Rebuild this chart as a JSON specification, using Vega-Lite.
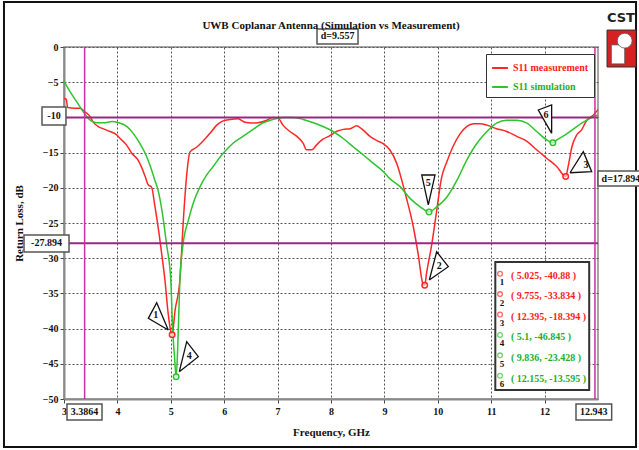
{
  "$schema": "https://vega.github.io/schema/vega-lite/v6.json",
  "autosize": {"type": "none"},
  "width": 534,
  "height": 352,
  "padding": {"left": 64, "top": 47, "right": 41, "bottom": 51},
  "background": "white",
  "title": {"text": "UWB Coplanar Antenna (Simulation vs Measurement)", "frame": "group", "anchor": "middle", "baseline": "bottom", "offset": -41, "font": "Liberation Serif", "fontSize": 11, "fontWeight": "bold", "color": "#111"},
  "config": {
    "font": "Liberation Serif",
    "view": {"stroke": "#8a8a8a", "strokeWidth": 1.5},
    "axis": {"labelFont": "Liberation Serif", "labelFontWeight": "bold", "labelFontSize": 10, "labelColor": "#111", "titleFont": "Liberation Serif", "titleFontWeight": "bold", "titleFontSize": 11, "titleColor": "#111", "domainColor": "#8a8a8a", "domainWidth": 2, "tickColor": "#444", "tickSize": 4, "gridColor": "#555", "gridDash": [2, 2], "gridWidth": 1, "labelOverlap": false, "labelFlush": false}
  },
  "layer": [
    {
      "data": {"values": [
        {"f": 3.0, "db": -7.3, "s": "S11 measurement"}, {"f": 3.04, "db": -7.4, "s": "S11 measurement"}, {"f": 3.07, "db": -8.6, "s": "S11 measurement"}, {"f": 3.2, "db": -8.7, "s": "S11 measurement"}, {"f": 3.3, "db": -8.7, "s": "S11 measurement"}, {"f": 3.39, "db": -9.2, "s": "S11 measurement"}, {"f": 3.49, "db": -9.9, "s": "S11 measurement"}, {"f": 3.54, "db": -10.6, "s": "S11 measurement"}, {"f": 3.64, "db": -11.3, "s": "S11 measurement"}, {"f": 3.73, "db": -11.6, "s": "S11 measurement"}, {"f": 3.86, "db": -12.0, "s": "S11 measurement"}, {"f": 3.99, "db": -12.5, "s": "S11 measurement"}, {"f": 4.05, "db": -13.0, "s": "S11 measurement"}, {"f": 4.17, "db": -13.9, "s": "S11 measurement"}, {"f": 4.27, "db": -15.1, "s": "S11 measurement"}, {"f": 4.39, "db": -16.1, "s": "S11 measurement"}, {"f": 4.46, "db": -17.2, "s": "S11 measurement"}, {"f": 4.52, "db": -18.4, "s": "S11 measurement"}, {"f": 4.58, "db": -19.6, "s": "S11 measurement"}, {"f": 4.64, "db": -19.9, "s": "S11 measurement"}, {"f": 4.7, "db": -22.5, "s": "S11 measurement"}, {"f": 4.78, "db": -26.5, "s": "S11 measurement"}, {"f": 4.84, "db": -30.0, "s": "S11 measurement"}, {"f": 4.89, "db": -33.1, "s": "S11 measurement"}, {"f": 4.95, "db": -37.8, "s": "S11 measurement"}, {"f": 5.0, "db": -40.4, "s": "S11 measurement"}, {"f": 5.025, "db": -40.88, "s": "S11 measurement"}, {"f": 5.08, "db": -37.4, "s": "S11 measurement"}, {"f": 5.17, "db": -33.1, "s": "S11 measurement"}, {"f": 5.24, "db": -24.0, "s": "S11 measurement"}, {"f": 5.3, "db": -18.0, "s": "S11 measurement"}, {"f": 5.36, "db": -14.9, "s": "S11 measurement"}, {"f": 5.49, "db": -14.2, "s": "S11 measurement"}, {"f": 5.6, "db": -13.4, "s": "S11 measurement"}, {"f": 5.73, "db": -12.3, "s": "S11 measurement"}, {"f": 5.86, "db": -11.1, "s": "S11 measurement"}, {"f": 5.98, "db": -10.5, "s": "S11 measurement"}, {"f": 6.11, "db": -10.3, "s": "S11 measurement"}, {"f": 6.26, "db": -10.2, "s": "S11 measurement"}, {"f": 6.39, "db": -10.7, "s": "S11 measurement"}, {"f": 6.52, "db": -10.8, "s": "S11 measurement"}, {"f": 6.63, "db": -10.75, "s": "S11 measurement"}, {"f": 6.8, "db": -10.4, "s": "S11 measurement"}, {"f": 6.91, "db": -10.0, "s": "S11 measurement"}, {"f": 7.01, "db": -10.1, "s": "S11 measurement"}, {"f": 7.1, "db": -11.1, "s": "S11 measurement"}, {"f": 7.23, "db": -12.0, "s": "S11 measurement"}, {"f": 7.36, "db": -12.7, "s": "S11 measurement"}, {"f": 7.48, "db": -13.7, "s": "S11 measurement"}, {"f": 7.54, "db": -14.6, "s": "S11 measurement"}, {"f": 7.64, "db": -14.6, "s": "S11 measurement"}, {"f": 7.73, "db": -13.9, "s": "S11 measurement"}, {"f": 7.85, "db": -13.1, "s": "S11 measurement"}, {"f": 7.98, "db": -12.6, "s": "S11 measurement"}, {"f": 8.1, "db": -12.0, "s": "S11 measurement"}, {"f": 8.23, "db": -11.7, "s": "S11 measurement"}, {"f": 8.36, "db": -11.6, "s": "S11 measurement"}, {"f": 8.48, "db": -11.2, "s": "S11 measurement"}, {"f": 8.57, "db": -11.6, "s": "S11 measurement"}, {"f": 8.73, "db": -12.7, "s": "S11 measurement"}, {"f": 8.86, "db": -13.3, "s": "S11 measurement"}, {"f": 8.97, "db": -13.7, "s": "S11 measurement"}, {"f": 9.1, "db": -14.6, "s": "S11 measurement"}, {"f": 9.23, "db": -16.5, "s": "S11 measurement"}, {"f": 9.39, "db": -20.8, "s": "S11 measurement"}, {"f": 9.54, "db": -25.5, "s": "S11 measurement"}, {"f": 9.63, "db": -29.3, "s": "S11 measurement"}, {"f": 9.72, "db": -33.6, "s": "S11 measurement"}, {"f": 9.755, "db": -33.834, "s": "S11 measurement"}, {"f": 9.79, "db": -32.1, "s": "S11 measurement"}, {"f": 9.89, "db": -27.9, "s": "S11 measurement"}, {"f": 9.98, "db": -23.2, "s": "S11 measurement"}, {"f": 10.07, "db": -18.6, "s": "S11 measurement"}, {"f": 10.17, "db": -16.3, "s": "S11 measurement"}, {"f": 10.28, "db": -14.2, "s": "S11 measurement"}, {"f": 10.42, "db": -12.3, "s": "S11 measurement"}, {"f": 10.54, "db": -11.3, "s": "S11 measurement"}, {"f": 10.67, "db": -10.9, "s": "S11 measurement"}, {"f": 10.79, "db": -10.9, "s": "S11 measurement"}, {"f": 10.92, "db": -11.1, "s": "S11 measurement"}, {"f": 11.1, "db": -11.6, "s": "S11 measurement"}, {"f": 11.29, "db": -12.0, "s": "S11 measurement"}, {"f": 11.48, "db": -12.7, "s": "S11 measurement"}, {"f": 11.67, "db": -13.4, "s": "S11 measurement"}, {"f": 11.85, "db": -14.6, "s": "S11 measurement"}, {"f": 12.04, "db": -15.8, "s": "S11 measurement"}, {"f": 12.23, "db": -17.0, "s": "S11 measurement"}, {"f": 12.395, "db": -18.394, "s": "S11 measurement"}, {"f": 12.44, "db": -17.0, "s": "S11 measurement"}, {"f": 12.51, "db": -14.2, "s": "S11 measurement"}, {"f": 12.6, "db": -12.5, "s": "S11 measurement"}, {"f": 12.69, "db": -11.8, "s": "S11 measurement"}, {"f": 12.79, "db": -10.4, "s": "S11 measurement"}, {"f": 12.91, "db": -9.7, "s": "S11 measurement"}, {"f": 13.0, "db": -8.9, "s": "S11 measurement"},
        {"f": 3.0, "db": -4.9, "s": "S11 simulation"}, {"f": 3.11, "db": -6.3, "s": "S11 simulation"}, {"f": 3.24, "db": -7.8, "s": "S11 simulation"}, {"f": 3.36, "db": -9.2, "s": "S11 simulation"}, {"f": 3.49, "db": -10.4, "s": "S11 simulation"}, {"f": 3.61, "db": -10.75, "s": "S11 simulation"}, {"f": 3.74, "db": -10.75, "s": "S11 simulation"}, {"f": 3.9, "db": -10.6, "s": "S11 simulation"}, {"f": 4.02, "db": -10.75, "s": "S11 simulation"}, {"f": 4.18, "db": -11.3, "s": "S11 simulation"}, {"f": 4.3, "db": -12.3, "s": "S11 simulation"}, {"f": 4.42, "db": -13.7, "s": "S11 simulation"}, {"f": 4.52, "db": -15.1, "s": "S11 simulation"}, {"f": 4.61, "db": -16.8, "s": "S11 simulation"}, {"f": 4.7, "db": -18.9, "s": "S11 simulation"}, {"f": 4.76, "db": -20.3, "s": "S11 simulation"}, {"f": 4.84, "db": -23.5, "s": "S11 simulation"}, {"f": 4.92, "db": -28.0, "s": "S11 simulation"}, {"f": 5.0, "db": -33.1, "s": "S11 simulation"}, {"f": 5.035, "db": -40.2, "s": "S11 simulation"}, {"f": 5.07, "db": -44.0, "s": "S11 simulation"}, {"f": 5.1, "db": -46.845, "s": "S11 simulation"}, {"f": 5.13, "db": -42.6, "s": "S11 simulation"}, {"f": 5.17, "db": -33.1, "s": "S11 simulation"}, {"f": 5.23, "db": -28.0, "s": "S11 simulation"}, {"f": 5.33, "db": -24.6, "s": "S11 simulation"}, {"f": 5.42, "db": -22.2, "s": "S11 simulation"}, {"f": 5.55, "db": -19.8, "s": "S11 simulation"}, {"f": 5.67, "db": -18.2, "s": "S11 simulation"}, {"f": 5.79, "db": -17.0, "s": "S11 simulation"}, {"f": 5.98, "db": -15.1, "s": "S11 simulation"}, {"f": 6.16, "db": -13.7, "s": "S11 simulation"}, {"f": 6.35, "db": -12.7, "s": "S11 simulation"}, {"f": 6.54, "db": -11.7, "s": "S11 simulation"}, {"f": 6.72, "db": -10.8, "s": "S11 simulation"}, {"f": 6.91, "db": -10.3, "s": "S11 simulation"}, {"f": 7.1, "db": -10.0, "s": "S11 simulation"}, {"f": 7.29, "db": -10.0, "s": "S11 simulation"}, {"f": 7.48, "db": -10.3, "s": "S11 simulation"}, {"f": 7.67, "db": -10.75, "s": "S11 simulation"}, {"f": 7.85, "db": -11.3, "s": "S11 simulation"}, {"f": 8.04, "db": -12.0, "s": "S11 simulation"}, {"f": 8.23, "db": -13.0, "s": "S11 simulation"}, {"f": 8.42, "db": -14.2, "s": "S11 simulation"}, {"f": 8.6, "db": -15.3, "s": "S11 simulation"}, {"f": 8.79, "db": -16.5, "s": "S11 simulation"}, {"f": 8.98, "db": -17.7, "s": "S11 simulation"}, {"f": 9.1, "db": -18.7, "s": "S11 simulation"}, {"f": 9.29, "db": -19.8, "s": "S11 simulation"}, {"f": 9.48, "db": -21.5, "s": "S11 simulation"}, {"f": 9.67, "db": -22.7, "s": "S11 simulation"}, {"f": 9.836, "db": -23.428, "s": "S11 simulation"}, {"f": 9.98, "db": -22.7, "s": "S11 simulation"}, {"f": 10.17, "db": -21.3, "s": "S11 simulation"}, {"f": 10.36, "db": -18.9, "s": "S11 simulation"}, {"f": 10.54, "db": -16.1, "s": "S11 simulation"}, {"f": 10.73, "db": -13.7, "s": "S11 simulation"}, {"f": 10.92, "db": -12.0, "s": "S11 simulation"}, {"f": 11.1, "db": -10.8, "s": "S11 simulation"}, {"f": 11.29, "db": -10.4, "s": "S11 simulation"}, {"f": 11.48, "db": -10.4, "s": "S11 simulation"}, {"f": 11.67, "db": -10.8, "s": "S11 simulation"}, {"f": 11.85, "db": -12.0, "s": "S11 simulation"}, {"f": 12.04, "db": -13.2, "s": "S11 simulation"}, {"f": 12.155, "db": -13.595, "s": "S11 simulation"}, {"f": 12.23, "db": -13.2, "s": "S11 simulation"}, {"f": 12.42, "db": -12.3, "s": "S11 simulation"}, {"f": 12.6, "db": -11.3, "s": "S11 simulation"}, {"f": 12.79, "db": -10.4, "s": "S11 simulation"}, {"f": 12.94, "db": -9.8, "s": "S11 simulation"}, {"f": 13.0, "db": -9.7, "s": "S11 simulation"}
      ]},
      "mark": {"type": "line", "strokeWidth": 1.5, "interpolate": "monotone"},
      "encoding": {
        "x": {"field": "f", "type": "quantitative", "title": "Frequency, GHz", "scale": {"domain": [3, 13], "nice": false, "zero": false}, "axis": {"values": [3, 4, 5, 6, 7, 8, 9, 10, 11, 12], "tickCount": 10, "labelPadding": 3, "titlePadding": 10, "grid": true}},
        "y": {"field": "db", "type": "quantitative", "title": "Return Loss, dB", "scale": {"domain": [-50, 0], "nice": false, "zero": false}, "axis": {"values": [0, -5, -10, -15, -20, -25, -30, -35, -40, -45, -50], "tickCount": 11, "labelExpr": "datum.value == -10 ? '' : datum.label", "labelPadding": 2, "titlePadding": 18, "grid": true}},
        "color": {"field": "s", "type": "nominal", "scale": {"domain": ["S11 measurement", "S11 simulation"], "range": ["#ff2626", "#2ec42e"]},
          "legend": {"title": null, "orient": "none", "legendX": 422, "legendY": 7, "strokeColor": "#333", "fillColor": "white", "padding": 5, "symbolType": "stroke", "symbolSize": 250, "symbolStrokeWidth": 2, "labelFont": "Liberation Serif", "labelFontWeight": "bold", "labelFontSize": 10, "rowPadding": 5, "labelOffset": 4,
            "encode": {"labels": {"update": {"fill": {"signal": "datum.value == 'S11 measurement' ? '#ff1a1a' : '#1fb01f'"}}}}}}
      }
    },
    {
      "data": {"values": [
        {"f": 1.876, "f2": 13.712, "db": 6.39, "db2": -56.82}
      ]},
      "mark": {"type": "rect", "fill": null, "stroke": "#111", "strokeWidth": 2},
      "encoding": {"x": {"field": "f", "type": "quantitative"}, "x2": {"field": "f2"}, "y": {"field": "db", "type": "quantitative"}, "y2": {"field": "db2"}}
    },
    {
      "data": {"values": [{"db": -10}, {"db": -27.894}]},
      "mark": {"type": "rule", "stroke": "#9b2580", "strokeWidth": 2},
      "encoding": {"y": {"field": "db", "type": "quantitative"}}
    },
    {
      "data": {"values": [{"f": 3.3864}, {"f": 12.943}]},
      "mark": {"type": "rule", "stroke": "#c8329a", "strokeWidth": 1.5},
      "encoding": {"x": {"field": "f", "type": "quantitative"}}
    },
    {
      "data": {"values": [
        {"label": "-10", "f": 2.588, "f2": 3.037, "db": -8.52, "db2": -11.08},
        {"label": "-27.894", "f": 2.251, "f2": 3.094, "db": -26.7, "db2": -29.12},
        {"label": "3.3864", "f": 3.056, "f2": 3.712, "db": -50.71, "db2": -52.98},
        {"label": "12.943", "f": 12.588, "f2": 13.256, "db": -50.71, "db2": -52.98},
        {"label": "d=9.557", "f": 7.738, "f2": 8.506, "db": 2.56, "db2": 0.43},
        {"label": "d=17.894", "f": 13.0, "f2": 13.88, "db": -17.61, "db2": -19.74}
      ]},
      "mark": {"type": "rect", "fill": "white", "stroke": "#555", "strokeWidth": 1.5},
      "encoding": {"x": {"field": "f", "type": "quantitative"}, "x2": {"field": "f2"}, "y": {"field": "db", "type": "quantitative"}, "y2": {"field": "db2"}}
    },
    {
      "data": {"values": [
        {"label": "-10", "f": 2.813, "db": -9.85},
        {"label": "-27.894", "f": 2.672, "db": -27.9},
        {"label": "3.3864", "f": 3.384, "db": -51.85},
        {"label": "12.943", "f": 12.922, "db": -51.85},
        {"label": "d=9.557", "f": 8.122, "db": 1.5},
        {"label": "d=17.894", "f": 13.43, "db": -18.68}
      ]},
      "mark": {"type": "text", "font": "Liberation Serif", "fontWeight": "bold", "fontSize": 10, "color": "#111", "baseline": "middle", "align": "center"},
      "encoding": {"x": {"field": "f", "type": "quantitative"}, "y": {"field": "db", "type": "quantitative"}, "text": {"field": "label"}}
    },
    {
      "data": {"values": [
        {"f": 5.025, "db": -40.88, "s": "S11 measurement"}, {"f": 9.755, "db": -33.834, "s": "S11 measurement"}, {"f": 12.395, "db": -18.394, "s": "S11 measurement"},
        {"f": 5.1, "db": -46.845, "s": "S11 simulation"}, {"f": 9.836, "db": -23.428, "s": "S11 simulation"}, {"f": 12.155, "db": -13.595, "s": "S11 simulation"}
      ]},
      "mark": {"type": "point", "filled": false, "size": 30, "strokeWidth": 1.5, "fill": "white", "fillOpacity": 0.6},
      "encoding": {"x": {"field": "f", "type": "quantitative"}, "y": {"field": "db", "type": "quantitative"},
        "stroke": {"field": "s", "type": "nominal", "legend": null, "scale": {"domain": ["S11 measurement", "S11 simulation"], "range": ["#ff2626", "#2ec42e"]}}}
    },
    {
      "data": {"values": [
        {"id": 1, "k": 0, "f": 4.953, "db": -40.2}, {"id": 1, "k": 1, "f": 4.736, "db": -36.32}, {"id": 1, "k": 2, "f": 4.579, "db": -38.54}, {"id": 1, "k": 3, "f": 4.953, "db": -40.2},
        {"id": 4, "k": 0, "f": 5.159, "db": -46.12}, {"id": 4, "k": 1, "f": 5.298, "db": -41.86}, {"id": 4, "k": 2, "f": 5.515, "db": -43.99}, {"id": 4, "k": 3, "f": 5.159, "db": -46.12},
        {"id": 2, "k": 0, "f": 9.841, "db": -33.1}, {"id": 2, "k": 1, "f": 9.979, "db": -29.08}, {"id": 2, "k": 2, "f": 10.197, "db": -31.21}, {"id": 2, "k": 3, "f": 9.841, "db": -33.1},
        {"id": 5, "k": 0, "f": 9.822, "db": -22.44}, {"id": 5, "k": 1, "f": 9.699, "db": -18.18}, {"id": 5, "k": 2, "f": 9.948, "db": -18.18}, {"id": 5, "k": 3, "f": 9.822, "db": -22.44},
        {"id": 3, "k": 0, "f": 12.476, "db": -17.86}, {"id": 3, "k": 1, "f": 12.725, "db": -14.87}, {"id": 3, "k": 2, "f": 12.882, "db": -17.71}, {"id": 3, "k": 3, "f": 12.476, "db": -17.86},
        {"id": 6, "k": 0, "f": 12.132, "db": -12.26}, {"id": 6, "k": 1, "f": 11.882, "db": -8.95}, {"id": 6, "k": 2, "f": 12.132, "db": -8.24}, {"id": 6, "k": 3, "f": 12.132, "db": -12.26}
      ]},
      "mark": {"type": "line", "stroke": "#111", "strokeWidth": 1.3, "fill": "white", "strokeJoin": "miter"},
      "encoding": {"x": {"field": "f", "type": "quantitative"}, "y": {"field": "db", "type": "quantitative"}, "detail": {"field": "id", "type": "nominal"}, "order": {"field": "k", "type": "quantitative"}}
    },
    {
      "data": {"values": [
        {"n": "1", "f": 4.717, "db": -38.07}, {"n": "4", "f": 5.346, "db": -43.89}, {"n": "2", "f": 10.028, "db": -31.11},
        {"n": "5", "f": 9.822, "db": -19.36}, {"n": "3", "f": 12.775, "db": -16.76}, {"n": "6", "f": 12.026, "db": -9.66}
      ]},
      "mark": {"type": "text", "font": "Liberation Serif", "fontWeight": "bold", "fontSize": 10, "color": "#111", "baseline": "middle", "align": "center"},
      "encoding": {"x": {"field": "f", "type": "quantitative"}, "y": {"field": "db", "type": "quantitative"}, "text": {"field": "n"}}
    },
    {
      "data": {"values": [{"f": 11.077, "f2": 12.835, "db": -30.54, "db2": -48.72}]},
      "mark": {"type": "rect", "fill": "white", "stroke": "#333", "strokeWidth": 2},
      "encoding": {"x": {"field": "f", "type": "quantitative"}, "x2": {"field": "f2"}, "y": {"field": "db", "type": "quantitative"}, "y2": {"field": "db2"}}
    },
    {
      "data": {"values": [
        {"f": 11.165, "db": -32.2, "s": "S11 measurement"}, {"f": 11.165, "db": -35.1, "s": "S11 measurement"}, {"f": 11.165, "db": -38.0, "s": "S11 measurement"},
        {"f": 11.165, "db": -40.9, "s": "S11 simulation"}, {"f": 11.165, "db": -43.8, "s": "S11 simulation"}, {"f": 11.165, "db": -46.7, "s": "S11 simulation"}
      ]},
      "mark": {"type": "point", "filled": false, "size": 22, "strokeWidth": 1.3},
      "encoding": {"x": {"field": "f", "type": "quantitative"}, "y": {"field": "db", "type": "quantitative"},
        "stroke": {"field": "s", "type": "nominal", "legend": null, "scale": {"domain": ["S11 measurement", "S11 simulation"], "range": ["#ff2626", "#2ec42e"]}}}
    },
    {
      "data": {"values": [
        {"n": "1", "f": 11.2, "db": -33.4}, {"n": "2", "f": 11.2, "db": -36.3}, {"n": "3", "f": 11.2, "db": -39.2},
        {"n": "4", "f": 11.2, "db": -42.1}, {"n": "5", "f": 11.2, "db": -45.0}, {"n": "6", "f": 11.2, "db": -47.9}
      ]},
      "mark": {"type": "text", "font": "Liberation Serif", "fontWeight": "bold", "fontSize": 9, "color": "#111", "baseline": "middle", "align": "center"},
      "encoding": {"x": {"field": "f", "type": "quantitative"}, "y": {"field": "db", "type": "quantitative"}, "text": {"field": "n"}}
    },
    {
      "data": {"values": [
        {"t": "( 5.025, -40.88 )", "f": 11.371, "db": -32.53, "s": "S11 measurement"},
        {"t": "( 9.755, -33.834 )", "f": 11.371, "db": -35.44, "s": "S11 measurement"},
        {"t": "( 12.395, -18.394 )", "f": 11.371, "db": -38.35, "s": "S11 measurement"},
        {"t": "( 5.1, -46.845 )", "f": 11.371, "db": -41.26, "s": "S11 simulation"},
        {"t": "( 9.836, -23.428 )", "f": 11.371, "db": -44.18, "s": "S11 simulation"},
        {"t": "( 12.155, -13.595 )", "f": 11.371, "db": -47.09, "s": "S11 simulation"}
      ]},
      "mark": {"type": "text", "font": "Liberation Serif", "fontWeight": "bold", "fontSize": 10, "baseline": "middle", "align": "left"},
      "encoding": {"x": {"field": "f", "type": "quantitative"}, "y": {"field": "db", "type": "quantitative"}, "text": {"field": "t"},
        "fill": {"field": "s", "type": "nominal", "legend": null, "scale": {"domain": ["S11 measurement", "S11 simulation"], "range": ["#ff1a1a", "#1fb01f"]}}}
    },
    {
      "data": {"values": [{"f": 13.169, "f2": 13.712, "db": 2.41, "db2": -2.84}]},
      "mark": {"type": "rect", "fill": "#d42222", "stroke": "#333", "strokeWidth": 1},
      "encoding": {"x": {"field": "f", "type": "quantitative"}, "x2": {"field": "f2"}, "y": {"field": "db", "type": "quantitative"}, "y2": {"field": "db2"}}
    },
    {
      "data": {"values": [{"f": 13.25, "f2": 13.5, "db": 0.3, "db2": -2.4}]},
      "mark": {"type": "rect", "fill": "white", "stroke": "#555", "strokeWidth": 0.8},
      "encoding": {"x": {"field": "f", "type": "quantitative"}, "x2": {"field": "f2"}, "y": {"field": "db", "type": "quantitative"}, "y2": {"field": "db2"}}
    },
    {
      "data": {"values": [{"f": 13.5, "db": 0.9}]},
      "mark": {"type": "point", "filled": true, "fill": "white", "stroke": "#555", "strokeWidth": 0.8, "size": 220, "opacity": 1},
      "encoding": {"x": {"field": "f", "type": "quantitative"}, "y": {"field": "db", "type": "quantitative"}}
    },
    {
      "data": {"values": [{"t": "CST", "f": 13.43, "db": 4.1}]},
      "mark": {"type": "text", "font": "DejaVu Sans", "fontWeight": "bold", "fontSize": 13, "color": "#222", "baseline": "middle", "align": "center"},
      "encoding": {"x": {"field": "f", "type": "quantitative"}, "y": {"field": "db", "type": "quantitative"}, "text": {"field": "t"}}
    }
  ]
}
